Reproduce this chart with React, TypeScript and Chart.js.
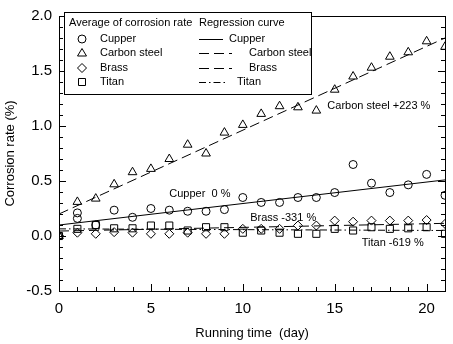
import React, { useEffect, useRef } from 'react';
import { Chart, registerables } from 'chart.js';
Chart.register(...registerables);

const FONT = 'Arial, "Liberation Sans", sans-serif';

// Data
const days = [0, 1, 2, 3, 4, 5, 6, 7, 8, 9, 10, 11, 12, 13, 14, 15, 16, 17, 18, 19, 20, 21];
const copperDays = [0, 1, 1, 2, 3, 4, 5, 6, 7, 8, 9, 10, 11, 12, 13, 14, 15, 16, 17, 18, 19, 20, 21];
const copperValues = [0, 0.21, 0.16, 0.10, 0.235, 0.17, 0.25, 0.235, 0.225, 0.225, 0.24, 0.35, 0.305, 0.305, 0.35, 0.35, 0.395, 0.65, 0.48, 0.395, 0.465, 0.56, 0.37];
const carbonValues = [0, 0.31, 0.34, 0.47, 0.58, 0.61, 0.70, 0.83, 0.75, 0.94, 1.01, 1.11, 1.18, 1.17, 1.14, 1.33, 1.45, 1.53, 1.63, 1.67, 1.77, 1.72];
const brassValues = [0, 0.03, 0.02, 0.035, 0.03, 0.02, 0.02, 0.03, 0.02, 0.02, 0.065, 0.065, 0.065, 0.095, 0.095, 0.14, 0.13, 0.14, 0.14, 0.14, 0.145, 0.11];
const titanValues = [0, 0.065, 0.10, 0.07, 0.07, 0.095, 0.095, 0.05, 0.08, 0.08, 0.03, 0.05, 0.03, 0.02, 0.02, 0.065, 0.05, 0.08, 0.065, 0.07, 0.08, 0.02];

const regDays = [0, 21];
const copperReg = [0.10, 0.51];
const carbonReg = [0.20, 1.80];
const brassReg = [0.045, 0.115];
const titanReg = [0.065, 0.05];

const xTicks = [0, 5, 10, 15, 20];
const yTicks = [-0.5, 0, 0.5, 1.0, 1.5, 2.0];

const seriesNames = ['Cupper', 'Carbon steel', 'Brass', 'Titan'];
const annotations = [
  { text: 'Carbon steel +223 %', day: 14.6, value: 1.18 },
  { text: 'Cupper  0 %', day: 6.0, value: 0.38 },
  { text: 'Brass -331 %', day: 10.4, value: 0.167 },
  { text: 'Titan -619 %', day: 16.47, value: -0.062 },
];

const pts = (xs: number[], ys: number[]) => xs.map((x, i) => ({ x, y: ys[i] }));

const dashes: number[][] = [[], [10, 5], [10, 5], [7, 3, 1.5, 3]];
const styles = ['circle', 'triangle', 'rectRot', 'rect'];
const radii = [4, 5, 4.5, 5];

function drawMarker(ctx: CanvasRenderingContext2D, style: string, x: number, y: number) {
  ctx.beginPath();
  if (style === 'circle') {
    ctx.arc(x, y, 4, 0, Math.PI * 2);
  } else if (style === 'triangle') {
    ctx.moveTo(x, y - 4.5);
    ctx.lineTo(x + 4.5, y + 3);
    ctx.lineTo(x - 4.5, y + 3);
    ctx.closePath();
  } else if (style === 'rectRot') {
    ctx.moveTo(x, y - 4.5);
    ctx.lineTo(x + 4.5, y);
    ctx.lineTo(x, y + 4.5);
    ctx.lineTo(x - 4.5, y);
    ctx.closePath();
  } else {
    ctx.rect(x - 3.5, y - 3.5, 7, 7);
  }
  ctx.stroke();
}

const framePlugin = {
  id: 'framePlugin',
  afterDatasetsDraw(chart: any) {
    const { ctx, chartArea: a, scales } = chart;
    const xs = scales.x, ys = scales.y;
    ctx.save();
    ctx.strokeStyle = '#000';
    ctx.lineWidth = 1;
    ctx.setLineDash([]);
    ctx.strokeRect(a.left + 0.5, a.top + 0.5, a.right - a.left, a.bottom - a.top);
    // inward ticks
    ctx.beginPath();
    for (let i = -5; i <= 20; i++) {
      const v = i / 10;
      const y = Math.round(ys.getPixelForValue(v)) + 0.5;
      const len = i % 5 === 0 ? 7 : 4;
      ctx.moveTo(a.left, y); ctx.lineTo(a.left + len, y);
      ctx.moveTo(a.right, y); ctx.lineTo(a.right - len, y);
    }
    for (let d = 0; d <= 21; d++) {
      const x = Math.round(xs.getPixelForValue(d)) + 0.5;
      const len = d % 5 === 0 ? 7 : 4;
      ctx.moveTo(x, a.bottom); ctx.lineTo(x, a.bottom - len);
    }
    ctx.stroke();

    // annotations
    ctx.fillStyle = '#000';
    ctx.font = `11px ${FONT}`;
    ctx.textBaseline = 'middle';
    ctx.textAlign = 'left';
    annotations.forEach((an) => {
      ctx.fillText(an.text, xs.getPixelForValue(an.day), ys.getPixelForValue(an.value));
    });

    // legend box
    const L = 64, T = 12, R = 311, B = 94;
    ctx.fillStyle = '#fff';
    ctx.fillRect(L, T, R - L, B - T);
    ctx.strokeRect(L + 0.5, T + 0.5, R - L, B - T);
    ctx.fillStyle = '#000';
    ctx.fillText('Average of corrosion rate', 69, 23);
    ctx.fillText('Regression curve', 199, 23);
    const rows = [39, 53, 68, 82];
    const lineEnds = [223, 232, 232, 228];
    const labelX = [229, 249, 249, 237];
    seriesNames.forEach((name, i) => {
      const y = rows[i];
      drawMarker(ctx, styles[i], 82, y);
      ctx.fillText(name, 100, y);
      ctx.save();
      ctx.setLineDash(dashes[i]);
      ctx.beginPath();
      ctx.moveTo(199, y + 0.5);
      ctx.lineTo(lineEnds[i], y + 0.5);
      ctx.stroke();
      ctx.restore();
      ctx.fillText(name, labelX[i], y);
    });
    ctx.restore();
  },
};

export default function App() {
  const ref = useRef<HTMLCanvasElement>(null);
  useEffect(() => {
    document.body.style.margin = '0';
    const canvas = ref.current!;
    const valueSets = [copperValues, carbonValues, brassValues, titanValues];
    const daySets = [copperDays, days, days, days];
    const regSets = [copperReg, carbonReg, brassReg, titanReg];
    const datasets: any[] = [];
    regSets.forEach((r, i) => {
      datasets.push({
        label: seriesNames[i] + ' regression',
        data: pts(regDays, r),
        showLine: true,
        borderColor: '#000',
        borderWidth: 1,
        borderDash: dashes[i],
        pointRadius: 0,
        fill: false,
      });
    });
    valueSets.forEach((v, i) => {
      datasets.push({
        label: seriesNames[i],
        data: pts(daySets[i], v),
        showLine: false,
        pointStyle: styles[i],
        pointRadius: radii[i],
        pointBorderColor: '#000',
        pointBackgroundColor: 'rgba(0,0,0,0)',
        pointBorderWidth: 1,
      });
    });
    const chart = new Chart(canvas, {
      type: 'scatter',
      data: { datasets },
      options: {
        animation: false,
        responsive: false,
        layout: { padding: { left: 0, top: 7, right: 8, bottom: 0 } },
        plugins: { legend: { display: false }, tooltip: { enabled: false } },
        scales: {
          x: {
            type: 'linear',
            min: 0,
            max: 21,
            afterBuildTicks: (s: any) => { s.ticks = xTicks.map((v) => ({ value: v })); },
            afterFit: (s: any) => { s.height = 53; },
            grid: { display: false, drawTicks: false },
            border: { display: false },
            ticks: { color: '#000', font: { family: FONT, size: 15 }, padding: 9, maxRotation: 0 },
            title: { display: true, text: 'Running time  (day)', color: '#000', font: { family: FONT, size: 13 }, padding: { top: 0, bottom: 3 } },
          },
          y: {
            type: 'linear',
            min: -0.5,
            max: 2.0,
            afterBuildTicks: (s: any) => { s.ticks = yTicks.map((v) => ({ value: v })); },
            afterFit: (s: any) => { s.width = 59; },
            grid: { display: false, drawTicks: false },
            border: { display: false },
            ticks: { color: '#000', font: { family: FONT, size: 15 }, padding: 7, callback: (v: any) => Number(v).toFixed(1) },
            title: { display: true, text: 'Corrosion rate (%)', color: '#000', font: { family: FONT, size: 13 }, padding: { top: 3, bottom: 0 } },
          },
        },
      },
      plugins: [framePlugin],
    } as any);
    return () => chart.destroy();
  }, []);
  return (
    <div style={{ width: 453, height: 344 }}>
      <canvas ref={ref} width={453} height={344} style={{ display: 'block' }} />
    </div>
  );
}
